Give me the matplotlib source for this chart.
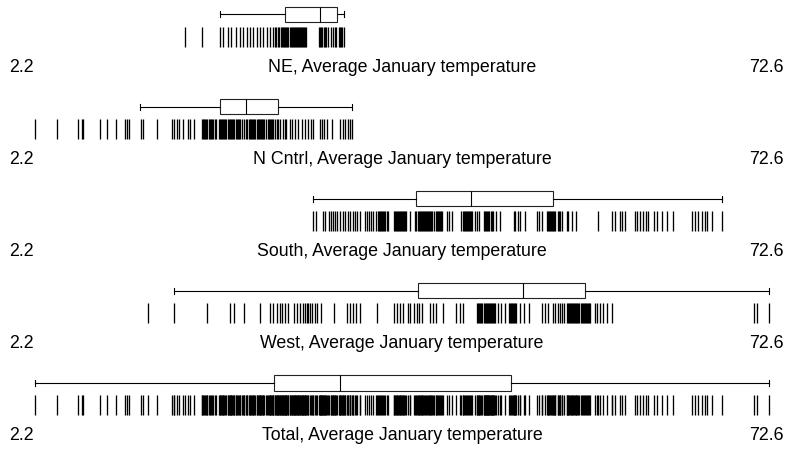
import matplotlib
matplotlib.use("Agg")
import matplotlib.pyplot as plt

# Average January temperature (deg F) by census region
regions = ["NE", "N Cntrl", "South", "West"]

ne_temps = [16.6, 18.2, 19.9, 20.2, 20.7, 21.0, 21.5, 21.9, 22.1, 22.5, 22.8, 23.1,
            23.5, 23.8, 24.1, 24.4, 24.7, 25.0, 25.2, 25.3, 25.5, 25.6, 25.8, 25.9,
            26.0, 26.1, 26.2, 26.3, 26.4, 26.5, 26.6, 26.7, 26.8, 26.9, 27.0, 27.1,
            27.2, 27.3, 27.4, 27.5, 27.6, 27.7, 27.8, 27.9, 28.0, 28.1, 28.2, 29.4,
            29.5, 29.6, 29.7, 29.9, 30.0, 30.1, 30.3, 30.6, 30.8, 31.0, 31.1, 31.3,
            31.4, 31.5, 31.6, 31.8]

ncntrl_temps = [2.2, 4.3, 6.3, 6.7, 6.8, 8.4, 9.1, 10.0, 10.8, 11.0, 11.2, 12.4, 12.6,
                13.9, 15.3, 15.5, 15.8, 16.0, 16.4, 16.9, 17.1, 17.4,
                18.2, 18.3, 18.4, 18.5, 18.6, 18.7, 18.9, 19.0, 19.1, 19.2,
                19.3, 19.5, 19.6, 19.8, 19.9,
                20.0, 20.1, 20.2, 20.3, 20.4, 20.5, 20.7, 20.8, 20.9, 21.0, 21.1,
                21.2, 21.3, 21.5, 21.6, 21.7, 21.8, 21.9,
                22.0, 22.2, 22.4, 22.5,
                22.7, 22.8, 22.9, 23.0, 23.1, 23.2, 23.3, 23.5, 23.6, 23.7, 23.8,
                23.9, 24.0, 24.1, 24.2, 24.3, 24.5, 24.6, 24.7, 24.8, 24.9, 25.0,
                25.2, 25.4, 25.5, 25.7, 26.0, 26.2, 26.3, 26.6, 26.8, 27.1, 27.4,
                27.8, 28.1, 28.4, 28.7, 28.9, 29.5, 29.7, 29.9, 30.2, 30.7, 31.4,
                31.7, 31.9, 32.2, 32.4, 32.6]

south_temps = [28.9, 29.1, 29.8, 30.0, 30.4, 30.6, 30.8, 31.0, 31.2, 31.4, 31.7, 31.9,
               32.2, 32.4, 32.7, 32.9, 33.1, 33.4, 33.8, 34.0, 34.2, 34.4, 34.6, 34.9,
               35.1, 35.2, 35.3, 35.4, 35.5, 35.6, 35.7, 35.8, 35.9, 36.0, 36.6, 36.7,
               36.8, 36.9, 37.0, 37.1, 37.2, 37.3, 37.4, 37.5, 37.6, 37.7, 37.8, 38.2,
               38.6, 38.7, 38.9, 39.0, 39.1, 39.2, 39.3, 39.4, 39.5, 39.6, 39.7, 39.8,
               39.9, 40.0, 40.1, 40.2, 40.3, 40.5, 40.6, 40.7, 40.8, 40.9, 41.0, 41.1,
               41.2, 41.7, 41.9, 42.2, 43.0, 43.2, 43.3, 43.4, 43.5, 43.6, 43.7, 43.8,
               43.9, 44.0, 44.1, 44.4, 44.6, 44.8, 45.2, 45.3, 45.4, 45.5, 45.6, 45.7,
               45.9, 46.0, 46.1, 46.4, 46.8,
               48.1, 48.2, 48.5, 48.7, 49.2, 50.3, 50.5, 50.8,
               51.3, 51.4, 51.5, 51.6, 51.7, 51.8, 51.9, 52.0, 52.1, 52.3, 52.4, 52.5,
               52.7, 53.2, 53.3, 53.7, 54.1,
               56.2, 57.5, 57.8, 58.3, 58.5, 58.8, 59.7, 59.9, 60.2, 60.5, 60.8, 61.0,
               61.5, 61.8, 62.3, 62.8, 63.4, 65.2, 65.5, 65.8, 66.1, 66.4, 66.6, 67.1,
               68.1]

west_temps = [13.0, 15.5, 18.7, 20.9, 21.3, 22.2, 23.8, 24.7, 25.0, 25.4, 25.7, 25.9,
              26.2, 26.5, 27.0, 27.3, 27.6, 27.9, 28.1, 28.3, 28.4, 28.6, 28.8, 29.0,
              29.2, 29.6, 30.9, 32.1, 32.4, 32.7, 33.0, 33.4, 35.0, 36.6, 36.9, 37.2,
              37.5, 38.0, 38.2, 38.5, 38.8, 39.0, 39.3, 40.1, 40.4, 40.6, 41.3, 42.6,
              42.9, 43.2, 44.6, 44.7, 44.8, 44.9, 45.0, 45.1, 45.2, 45.3, 45.4, 45.5,
              45.6, 45.7, 45.8, 45.9, 46.0, 46.1, 46.2, 46.3, 46.6, 46.9, 47.3, 47.6,
              47.7, 47.8, 47.9, 48.0, 48.1, 48.2, 48.3, 48.7, 49.1, 49.6, 50.8, 51.1,
              51.4, 51.9, 52.1, 52.3, 52.5, 52.7, 52.9, 53.2, 53.3, 53.4, 53.5, 53.6,
              53.7, 53.8, 53.9, 54.0, 54.1, 54.2, 54.3, 54.4, 54.5, 54.6, 54.7, 54.8,
              54.9, 55.0, 55.1, 55.2, 55.3, 55.4, 55.9, 56.1, 56.4, 56.7, 57.0, 57.5,
              71.1, 71.4, 72.6]

# Box summaries: lower adjacent, 25th pct, median, 75th pct, upper adjacent
whisker_low = [19.9, 12.3, 28.9, 15.5, 2.2]
quart_low = [26.2, 19.9, 38.7, 38.9, 25.1]
medians = [29.5, 22.4, 44.0, 49.0, 31.4]
quart_high = [31.2, 25.5, 51.9, 54.9, 47.8]
whisker_high = [31.8, 32.6, 68.1, 72.6, 72.6]

panel_names = regions + ["Total"]
panel_data = [ne_temps, ncntrl_temps, south_temps, west_temps,
              ne_temps + ncntrl_temps + south_temps + west_temps]
range_lo, range_hi = 2.2, 72.6

W, H = 795, 449
fig = plt.figure(figsize=(W / 100, H / 100), dpi=100)
ax = fig.add_axes([0, 0, 1, 1])
ax.set_axis_off()

# horizontal scale: range_lo at x=35 px, range_hi at x=769.3 px
px_per_unit = (769.3 - 35.0) / (range_hi - range_lo)
ax.set_xlim(range_lo - 35.0 / px_per_unit, range_hi + (W - 769.3) / px_per_unit)
ax.set_ylim(H, 0)

font = dict(family=["Liberation Sans", "DejaVu Sans"], size=12.75, color="black")

def px_to_x(px):
    return range_lo + (px - 35.0) / px_per_unit

for i, (name, vals) in enumerate(zip(panel_names, panel_data)):
    top = 6.7 + 92.1 * i
    stats = [dict(whislo=whisker_low[i], q1=quart_low[i], med=medians[i],
                  q3=quart_high[i], whishi=whisker_high[i], fliers=[])]
    ax.bxp(stats, positions=[top + 7.75], widths=15.5, capwidths=6,
           orientation="horizontal", patch_artist=True, manage_ticks=False,
           boxprops=dict(facecolor="white", edgecolor="#222222", linewidth=0.8),
           medianprops=dict(color="black", linewidth=0.8),
           whiskerprops=dict(color="black", linewidth=0.8),
           capprops=dict(color="black", linewidth=0.8))
    ax.vlines(vals, top + 19.8, top + 40.0, color="black", linewidth=0.95)

    base = top + 65.3
    ax.text(px_to_x(9.5), base, f"{range_lo}", ha="left", va="baseline", **font)
    ax.text(px_to_x(402.0), base, f"{name}, Average January temperature",
            ha="center", va="baseline", **font)
    ax.text(px_to_x(783.3), base, f"{range_hi}", ha="right", va="baseline", **font)

fig.savefig("out.png", dpi=100, facecolor="white")
